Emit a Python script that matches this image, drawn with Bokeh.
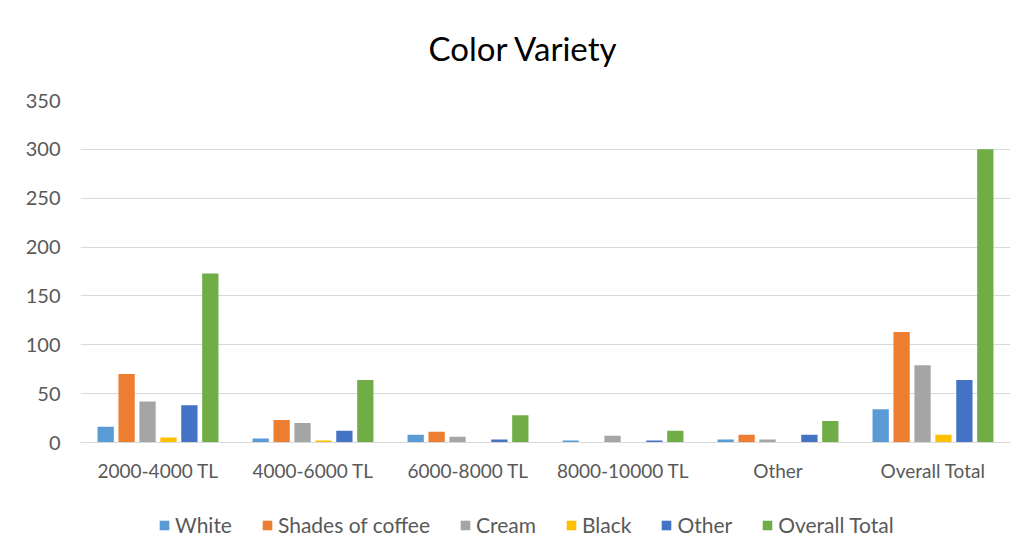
from bokeh.plotting import figure
from bokeh.models import FactorRange, Legend, LegendItem, ColumnDataSource, Range1d, Label
from bokeh.layouts import column
from bokeh.transform import dodge
from bokeh.embed import file_html
from bokeh.resources import INLINE

title_text = "Color Variety"
categories = ["2000-4000 TL", "4000-6000 TL", "6000-8000 TL", "8000-10000 TL", "Other", "Overall Total"]
series_names = ["White", "Shades of coffee", "Cream", "Black", "Other", "Overall Total"]
white = [16, 4, 8, 2, 3, 34]
shades_of_coffee = [70, 23, 11, 0, 8, 113]
cream = [42, 20, 6, 7, 3, 79]
black = [5, 2, 0, 0, 0, 8]
other = [38, 12, 3, 2, 8, 64]
overall_total = [173, 64, 28, 12, 22, 300]
y_ticks = [0, 50, 100, 150, 200, 250, 300, 350]

colors = ["#5B9BD5", "#ED7D31", "#A5A5A5", "#FFC000", "#4472C4", "#70AD47"]
FONT = "Lato"
TICK_COLOR = "#595959"

data = {"cat": categories, "s0": white, "s1": shades_of_coffee, "s2": cream,
        "s3": black, "s4": other, "s5": overall_total}
source = ColumnDataSource(data)

# title strip
tt = figure(width=1024, height=88, output_backend="svg", toolbar_location=None,
            x_range=Range1d(0, 1), y_range=Range1d(0, 1),
            x_axis_type=None, y_axis_type=None,
            min_border_left=80, min_border_right=14, min_border_top=0, min_border_bottom=0)
tt.xgrid.grid_line_color = None
tt.ygrid.grid_line_color = None
tt.outline_line_color = None
tt.add_layout(Label(x=443, y=41, x_units="screen", y_units="screen", text=title_text,
                    text_align="center", text_baseline="middle", text_font=FONT,
                    text_font_size="33px", text_color="#000000"))

p = figure(x_range=FactorRange(*categories), y_range=Range1d(0, 350),
           width=1024, height=410, output_backend="svg", toolbar_location=None,
           min_border_left=80, min_border_right=14, min_border_top=12, min_border_bottom=56)

step = 0.135
width = 0.105
for i in range(6):
    off = (i - 2.5) * step
    p.vbar(x=dodge("cat", off, range=p.x_range), top="s%d" % i, width=width,
           source=source, fill_color=colors[i], line_color=None)

p.yaxis.ticker = y_ticks
p.yaxis.axis_line_color = None
p.yaxis.major_tick_line_color = None
p.yaxis.minor_tick_line_color = None
p.yaxis.major_label_text_font = FONT
p.yaxis.major_label_text_font_size = "20px"
p.yaxis.major_label_text_color = TICK_COLOR
p.yaxis.major_label_standoff = 14

p.xaxis.axis_line_color = "#D9D9D9"
p.xaxis.axis_line_width = 1
p.xaxis.major_tick_line_color = None
p.xaxis.minor_tick_line_color = None
p.xaxis.major_label_text_font = FONT
p.xaxis.major_label_text_font_size = "19px"
p.xaxis.major_label_text_color = TICK_COLOR
p.xaxis.major_label_standoff = 10

p.xgrid.grid_line_color = None
p.ygrid.grid_line_color = "#D9D9D9"
p.ygrid.grid_line_width = 1
p.outline_line_color = None
p.x_range.range_padding = 0
p.x_range.group_padding = 0

# legend strip below the chart (its proxy bars have zero size, so only the legend shows)
lg = figure(width=1024, height=60, output_backend="svg", toolbar_location=None,
            x_range=FactorRange(*categories), y_range=Range1d(-2, -1),
            x_axis_type=None, y_axis_type=None,
            min_border_left=80, min_border_right=14, min_border_top=0, min_border_bottom=0)
lg.xgrid.grid_line_color = None
lg.ygrid.grid_line_color = None
lg.outline_line_color = None
items = []
for i in range(6):
    r = lg.vbar(x="cat", top="s%d" % i, bottom="s%d" % i, width=0, source=source,
                fill_color=colors[i], line_color=None)
    items.append(LegendItem(label=series_names[i], renderers=[r]))
legend = Legend(items=items, orientation="horizontal", location=(78, 21))
legend.label_text_font = FONT
legend.label_text_font_size = "21px"
legend.label_text_color = TICK_COLOR
legend.border_line_color = None
legend.background_fill_alpha = 0
legend.glyph_width = 12
legend.glyph_height = 12
legend.spacing = 29
legend.label_standoff = 5
legend.padding = 0
legend.margin = 0
lg.add_layout(legend)

layout = column(tt, p, lg, spacing=0)
open("out.html", "w").write(file_html(layout, INLINE))
